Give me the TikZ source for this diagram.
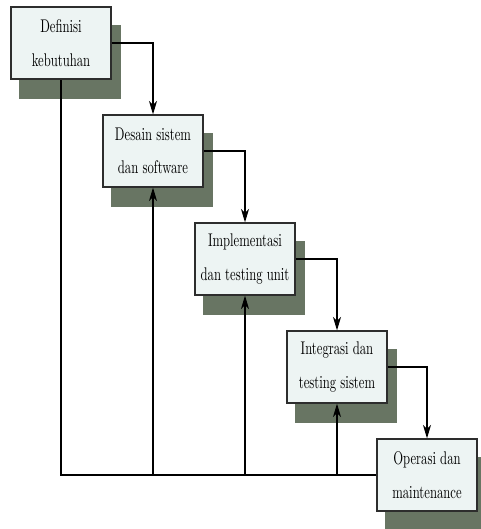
\documentclass[tikz,border=0pt]{standalone}
\usepackage{amssymb,amsmath}
\usepackage{graphicx}
\usepackage{tikz}
\usetikzlibrary{arrows.meta,backgrounds}
\usepackage{color}

\definecolor{shadowgreen}{RGB}{104,117,99}
\definecolor{boxfill}{RGB}{237,244,243}
\newcommand{\tall}[1]{\scalebox{1}[1.45]{#1}}
\tikzset{
  phase/.style={draw={rgb, 255:red, 45; green, 45; blue, 45}, line width=1pt, fill=boxfill,
    minimum width=75pt, minimum height=54pt, inner sep=2pt, align=center,
    font=\fontsize{9.5}{25}\selectfont},
  flow/.style={line width=0.8pt, -{Stealth[length=10pt,width=6pt,inset=3pt]}}
}

\begin{document}
\begin{tikzpicture}[x=0.75pt,y=0.75pt,yscale=-1,xscale=1]
\useasboundingbox (0,0) rectangle (481,529);

%Shape: Rectangle [id:b1]
\node[phase] (b1) at (61,43) {\tall{Definisi}\\\tall{kebutuhan}};
%Shape: Rectangle [id:b2]
\node[phase] (b2) at (153,151) {\tall{Desain sistem}\\\tall{dan software}};
%Shape: Rectangle [id:b3]
\node[phase] (b3) at (245,259) {\tall{Implementasi}\\\tall{dan testing unit}};
%Shape: Rectangle [id:b4]
\node[phase] (b4) at (337,367) {\tall{Integrasi dan}\\\tall{testing sistem}};
%Shape: Rectangle [id:b5]
\node[phase] (b5) at (427,475) {\tall{Operasi dan}\\\tall{maintenance}};

%Shadows behind the boxes
\begin{scope}[on background layer]
\foreach \b in {b1,b2,b3,b4,b5}
  \fill[shadowgreen] ([shift={(9,19)}]\b.south west) rectangle ([shift={(9,19)}]\b.north east);
\end{scope}

%Straight Lines (down the cascade)
\draw[flow] (b1.east) -| (b2.north);
\draw[flow] (b2.east) -| (b3.north);
\draw[flow] (b3.east) -| (b4.north);
\draw[flow] (b4.east) -| (b5.north);

%Straight Lines (feedback)
\draw[line width=0.8pt] (b5.west) -- (b1.south |- b5.west) -- (b1.south);
\draw[flow] (b2.south |- b5.west) -- (b2.south);
\draw[flow] (b3.south |- b5.west) -- (b3.south);
\draw[flow] (b4.south |- b5.west) -- (b4.south);

\end{tikzpicture}
\end{document}
